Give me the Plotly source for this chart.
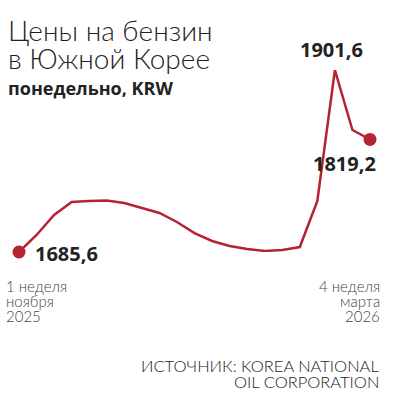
import plotly.graph_objects as go

weeks = list(range(21))
prices = [1685.6, 1705.8, 1729.5, 1744.9, 1746.1, 1746.7, 1743.8, 1737.8, 1731.9,
          1721.2, 1708.1, 1698.7, 1692.7, 1689.2, 1686.8, 1688.0, 1691.5, 1746.1,
          1901.6, 1830.4, 1819.2]
start_label = ["1 неделя", "ноября", "2025"]
end_label = ["4 неделя", "марта", "2026"]
title_lines = ["Цены на бензин", "в Южной Корее"]
subtitle = "понедельно, KRW"
source_lines = ["ИСТОЧНИК: KOREA NATIONAL", "OIL CORPORATION"]

RED = "#B32430"
DARK = "#222222"
GREY = "#444444"
LIGHT_FONT = "Lato"
BOLD_FONT = "Open Sans"

# plot area in pixels
L, R, T, B = 19, 23, 70, 148
W, H = 393, 400
PW, PH = W - L - R, H - T - B


def px(x):
    return (x - L) / PW


def py(y):
    return (H - B - y) / PH


fig = go.Figure()
fig.add_trace(go.Scatter(
    x=weeks, y=prices, mode="lines",
    line=dict(color=RED, width=2.5),
    cliponaxis=False, hoverinfo="skip", showlegend=False,
))
fig.add_trace(go.Scatter(
    x=[weeks[0], weeks[-1]], y=[prices[0], prices[-1]], mode="markers",
    marker=dict(size=13, color=RED, opacity=1, line=dict(width=0)),
    cliponaxis=False, hoverinfo="skip", showlegend=False,
))


def fmt(v):
    return f"{v:.1f}".replace(".", ",")


ann = [
    dict(x=weeks[0], y=prices[0], xref="x", yref="y", text=f"<b>{fmt(prices[0])}</b>",
         xanchor="left", yanchor="middle", xshift=14, yshift=-1, showarrow=False,
         font=dict(family=BOLD_FONT, size=20, color=DARK)),
    dict(x=weeks[18], y=prices[18], xref="x", yref="y", text=f"<b>{fmt(prices[18])}</b>",
         xanchor="center", yanchor="bottom", xshift=-3, yshift=5, showarrow=False,
         font=dict(family=BOLD_FONT, size=20, color=DARK)),
    dict(x=weeks[-1], y=prices[-1], xref="x", yref="y", text=f"<b>{fmt(prices[-1])}</b>",
         xanchor="right", yanchor="top", xshift=8, yshift=-9, showarrow=False,
         font=dict(family=BOLD_FONT, size=20, color=DARK)),
]


def text_at(x, y, text, xanchor, size, color, weight=300, family=LIGHT_FONT):
    ann.append(dict(x=px(x), y=py(y), xref="paper", yref="paper", text=text,
                    xanchor=xanchor, yanchor="middle", showarrow=False,
                    font=dict(family=family, size=size, color=color, weight=weight)))


for i, t in enumerate(title_lines):
    text_at(6, 30 + 28 * i, t, "left", 28, DARK)
text_at(6, 88, f"<b>{subtitle}</b>", "left", 18, DARK, weight=700, family=BOLD_FONT)
for i, t in enumerate(start_label):
    text_at(4, 286 + 15 * i, t, "left", 15, GREY)
for i, t in enumerate(end_label):
    text_at(382, 286 + 15 * i, t, "right", 15, GREY)
for i, t in enumerate(source_lines):
    text_at(381, 366 + 16 * i, t, "right", 16.5, DARK)

fig.update_layout(
    width=W, height=H,
    margin=dict(l=L, r=R, t=T, b=B),
    paper_bgcolor="white", plot_bgcolor="white",
    xaxis=dict(range=[0, 20], visible=False, fixedrange=True),
    yaxis=dict(range=[1685.6, 1901.6], visible=False, fixedrange=True),
    annotations=ann,
)

fig.write_html("out.html", config={"displayModeBar": False},
               post_script="document.body.style.margin='0';document.body.style.padding='0';")
